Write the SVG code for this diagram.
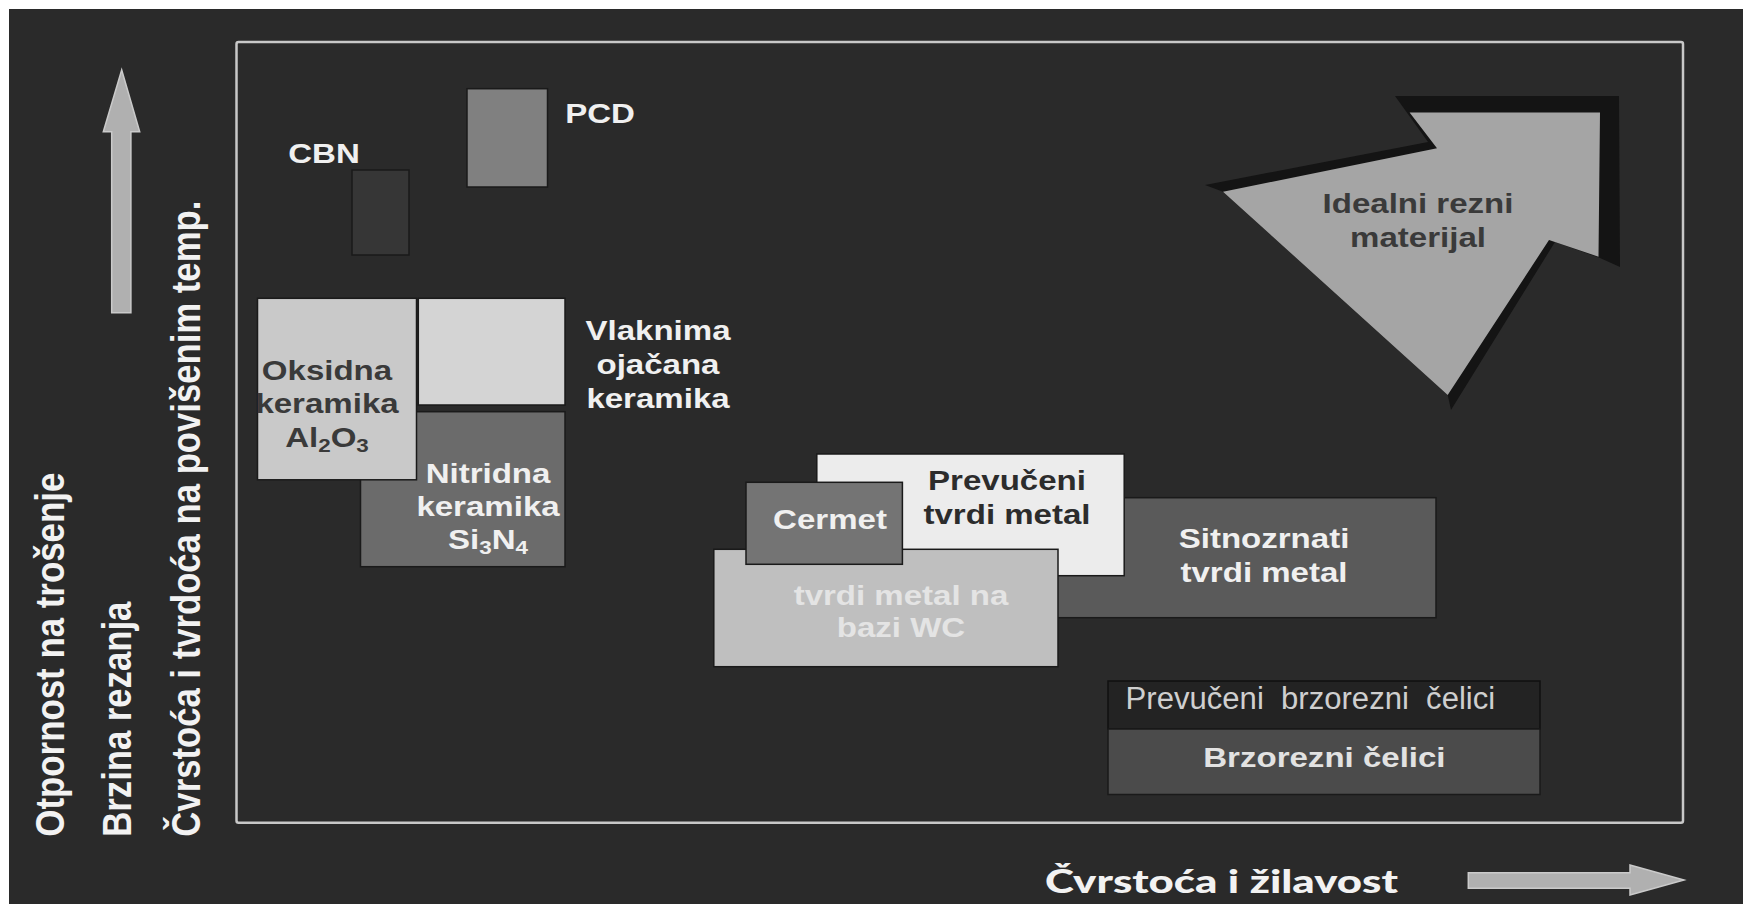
<svg xmlns="http://www.w3.org/2000/svg" width="1743" height="904" viewBox="0 0 1743 904">
<style>
.lbl{font-family:"Liberation Sans",Arial,sans-serif;font-weight:bold;font-size:28px;text-anchor:middle}
.ax{font-family:"Liberation Sans",Arial,sans-serif;font-weight:bold;font-size:34px;fill:#f2f2f2}
.box{stroke:#1a1a1a;stroke-width:1.5}
.w{fill:#f0f0f0}
.d{fill:#3a3a3a}
.sub{font-size:19px}
</style>
<rect x="0" y="0" width="1743" height="904" fill="#ffffff"/>
<rect x="9" y="9" width="1734" height="895" fill="#2a2a2a"/>
<rect id="frame" x="236.5" y="42" width="1446.5" height="780.7" rx="2" fill="none" stroke="#c8c8c8" stroke-width="2.5"/>

<g id="axis-arrows" fill="#b0b0b0" stroke="#cacaca" stroke-width="1.5">
  <polygon points="121.7,70 139.7,131.7 130.9,131.7 130.9,312.7 111.7,312.7 111.7,131.7 103.3,131.7"/>
  <polygon points="1468.3,872.7 1630,872.7 1630,865 1684,880 1630,895 1630,888.3 1468.3,888.3"/>
</g>

<g id="axis-labels">
  <text class="ax" transform="translate(63.5,836.7) scale(1.18,1) rotate(-90)" textLength="364" lengthAdjust="spacingAndGlyphs">Otpornost na trošenje</text>
  <text class="ax" transform="translate(131,836.7) scale(1.18,1) rotate(-90)" textLength="235" lengthAdjust="spacingAndGlyphs">Brzina rezanja</text>
  <text class="ax" transform="translate(200,836.7) scale(1.18,1) rotate(-90)" textLength="636" lengthAdjust="spacingAndGlyphs">Čvrstoća i tvrdoća na povišenim temp.</text>
  <text x="1045" y="893" font-family="Lato,'Open Sans',sans-serif" font-weight="900" font-size="32" fill="#f2f2f2" textLength="353" lengthAdjust="spacingAndGlyphs">Čvrstoća i žilavost</text>
</g>

<g id="cbn">
  <rect class="box" x="352" y="170" width="57" height="85" fill="#363636"/>
  <text class="lbl w" transform="translate(324,163) scale(1.18,1)">CBN</text>
</g>
<g id="pcd">
  <rect class="box" x="467" y="88.7" width="80.5" height="98.3" fill="#808080"/>
  <text class="lbl w" transform="translate(600,123.3) scale(1.18,1)">PCD</text>
</g>

<g id="vlaknima">
  <rect class="box" x="418.3" y="298.3" width="146.7" height="106.7" fill="#d4d4d4"/>
  <text class="lbl w" transform="translate(658,340) scale(1.18,1)">Vlaknima<tspan x="0" dy="34">ojačana</tspan><tspan x="0" dy="34">keramika</tspan></text>
</g>
<g id="nitridna">
  <rect class="box" x="360.5" y="411.7" width="204.5" height="155" fill="#6b6b6b"/>
  <text class="lbl w" transform="translate(488,483) scale(1.18,1)">Nitridna<tspan x="0" dy="33">keramika</tspan><tspan x="0" dy="33">Si<tspan class="sub" dy="5">3</tspan><tspan dy="-5">N</tspan><tspan class="sub" dy="5">4</tspan></tspan></text>
</g>
<g id="oksidna">
  <rect class="box" x="257.5" y="298.3" width="159" height="181.5" fill="#c9c9c9"/>
  <text class="lbl d" transform="translate(327,380) scale(1.18,1)">Oksidna<tspan x="0" dy="33.3">keramika</tspan><tspan x="0" dy="33.3">Al<tspan class="sub" dy="5">2</tspan><tspan dy="-5">O</tspan><tspan class="sub" dy="5">3</tspan></tspan></text>
</g>

<g id="sitnozrnati">
  <rect class="box" x="1000" y="497.7" width="436" height="120" fill="#5a5a5a"/>
  <text class="lbl w" transform="translate(1264,548.3) scale(1.18,1)">Sitnozrnati<tspan x="0" dy="33.4">tvrdi metal</tspan></text>
</g>
<g id="prevuceni-tvrdi-metal">
  <rect class="box" x="816.8" y="454" width="307.4" height="121.7" fill="#ececec"/>
  <text class="lbl" fill="#2c2c2c" transform="translate(1007,490) scale(1.18,1)">Prevučeni<tspan x="0" dy="34.3">tvrdi metal</tspan></text>
</g>
<g id="tvrdi-metal-wc">
  <rect class="box" x="713.8" y="549.3" width="344.2" height="117.4" fill="#bfbfbf"/>
  <text class="lbl" fill="#e4e4e4" transform="translate(901,605) scale(1.18,1)">tvrdi metal na<tspan x="0" dy="32.3">bazi WC</tspan></text>
</g>
<g id="cermet">
  <rect class="box" x="746" y="482.3" width="156.4" height="82" fill="#747474"/>
  <text class="lbl w" transform="translate(830,528.7) scale(1.18,1)">Cermet</text>
</g>

<g id="prevuceni-brzorezni">
  <rect x="1108" y="681" width="432" height="48" fill="#232323" stroke="#111111" stroke-width="1.5"/>
  <text x="1125.6" y="709.3" font-family="'Liberation Sans',Arial,sans-serif" font-size="31" fill="#cfcfcf" textLength="369.6" lengthAdjust="spacingAndGlyphs">Prevučeni&#160; brzorezni&#160; čelici</text>
</g>
<g id="brzorezni">
  <rect class="box" x="1108" y="729" width="432" height="65.5" fill="#4b4b4b"/>
  <text class="lbl" fill="#e2e2e2" transform="translate(1324.4,766.7) scale(1.18,1)">Brzorezni čelici</text>
</g>

<g id="idealni">
  <polygon points="1205,185 1428,142 1395,96 1619,96 1620,267 1600,258 1555,242 1451,410 1447.7,395 1223,191.7" fill="#141414"/>
  <polygon points="1223,191.7 1437,148.3 1409.6,112.5 1600,112.5 1598.5,256.7 1549,240 1447.7,395" fill="#a5a5a5"/>
  <text class="lbl d" transform="translate(1418,213.3) scale(1.18,1)">Idealni rezni<tspan x="0" dy="33.4">materijal</tspan></text>
</g>
</svg>
